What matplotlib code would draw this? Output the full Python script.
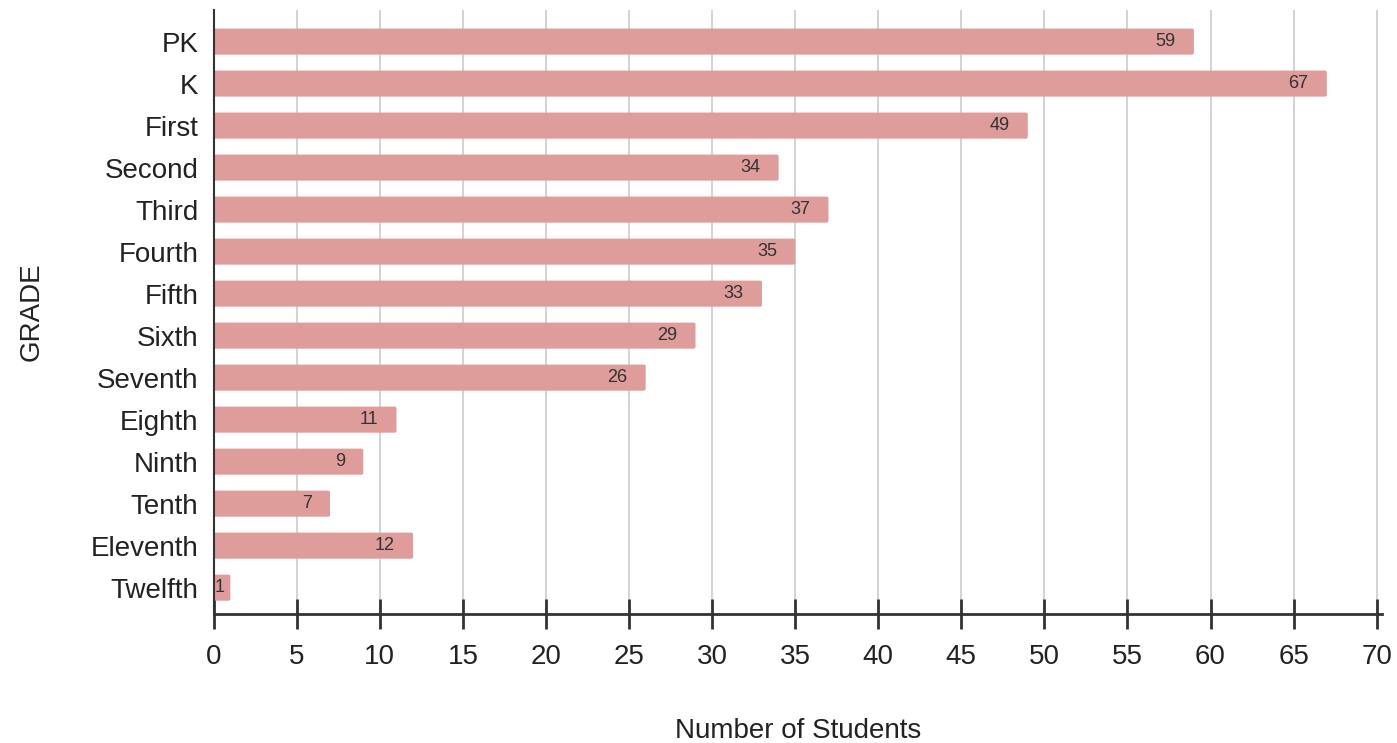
import matplotlib.pyplot as plt
from matplotlib.patches import FancyBboxPatch

plt.rcParams['font.family'] = ['Liberation Sans', 'DejaVu Sans']

# grade counts
grades = ['PK', 'K', 'First', 'Second', 'Third', 'Fourth', 'Fifth', 'Sixth',
          'Seventh', 'Eighth', 'Ninth', 'Tenth', 'Eleventh', 'Twelfth']
students = [59, 67, 49, 34, 37, 35, 33, 29, 26, 11, 9, 7, 12, 1]
x_ticks = list(range(0, 71, 5))

bar_color = '#DE9C9B'

fig = plt.figure(figsize=(13.97, 7.43), dpi=100)
ax = fig.add_axes([0.153, 0.174, 0.836, 0.813])

bar_h = 0.62
for i, v in enumerate(students):
    # rounded bar end, like the original
    patch = FancyBboxPatch((0, i - bar_h / 2), v, bar_h,
                           boxstyle='round,pad=0,rounding_size=0.12',
                           mutation_aspect=1 / 3.0,
                           facecolor=bar_color, edgecolor='none', zorder=2)
    ax.add_patch(patch)
    if v >= 3:
        ax.text(v - 1.1, i, str(v), ha='right', va='center', fontsize=13,
                color='#333333', zorder=3)
    else:
        ax.text(v * 0.35, i, str(v), ha='center', va='center', fontsize=13,
                color='#333333', zorder=3)

ax.set_xlim(0, 70.3)
ax.set_ylim(13.62, -0.76)
ax.set_yticks(range(len(grades)))
ax.set_yticklabels(grades, fontsize=20)
ax.set_xticks(x_ticks)
ax.set_xticklabels([str(t) for t in x_ticks], fontsize=20)

ax.grid(axis='x', color='#CCCCCC', linewidth=1.2, zorder=0)
ax.set_axisbelow(True)

for s in ['top', 'right']:
    ax.spines[s].set_visible(False)
ax.spines['left'].set_linewidth(1.5)
ax.spines['bottom'].set_linewidth(2)
ax.spines['left'].set_color('#333333')
ax.spines['bottom'].set_color('#333333')

ax.tick_params(axis='y', length=0, pad=11, colors='#222222')
ax.tick_params(axis='x', direction='inout', length=21, width=2,
               color='#333333', pad=11, labelcolor='#222222')

ax.set_xlabel('Number of Students', fontsize=20, labelpad=35, color='#222222')
ax.set_ylabel('GRADE', fontsize=20, labelpad=33, color='#222222')

fig.savefig('out.png', dpi=100)
